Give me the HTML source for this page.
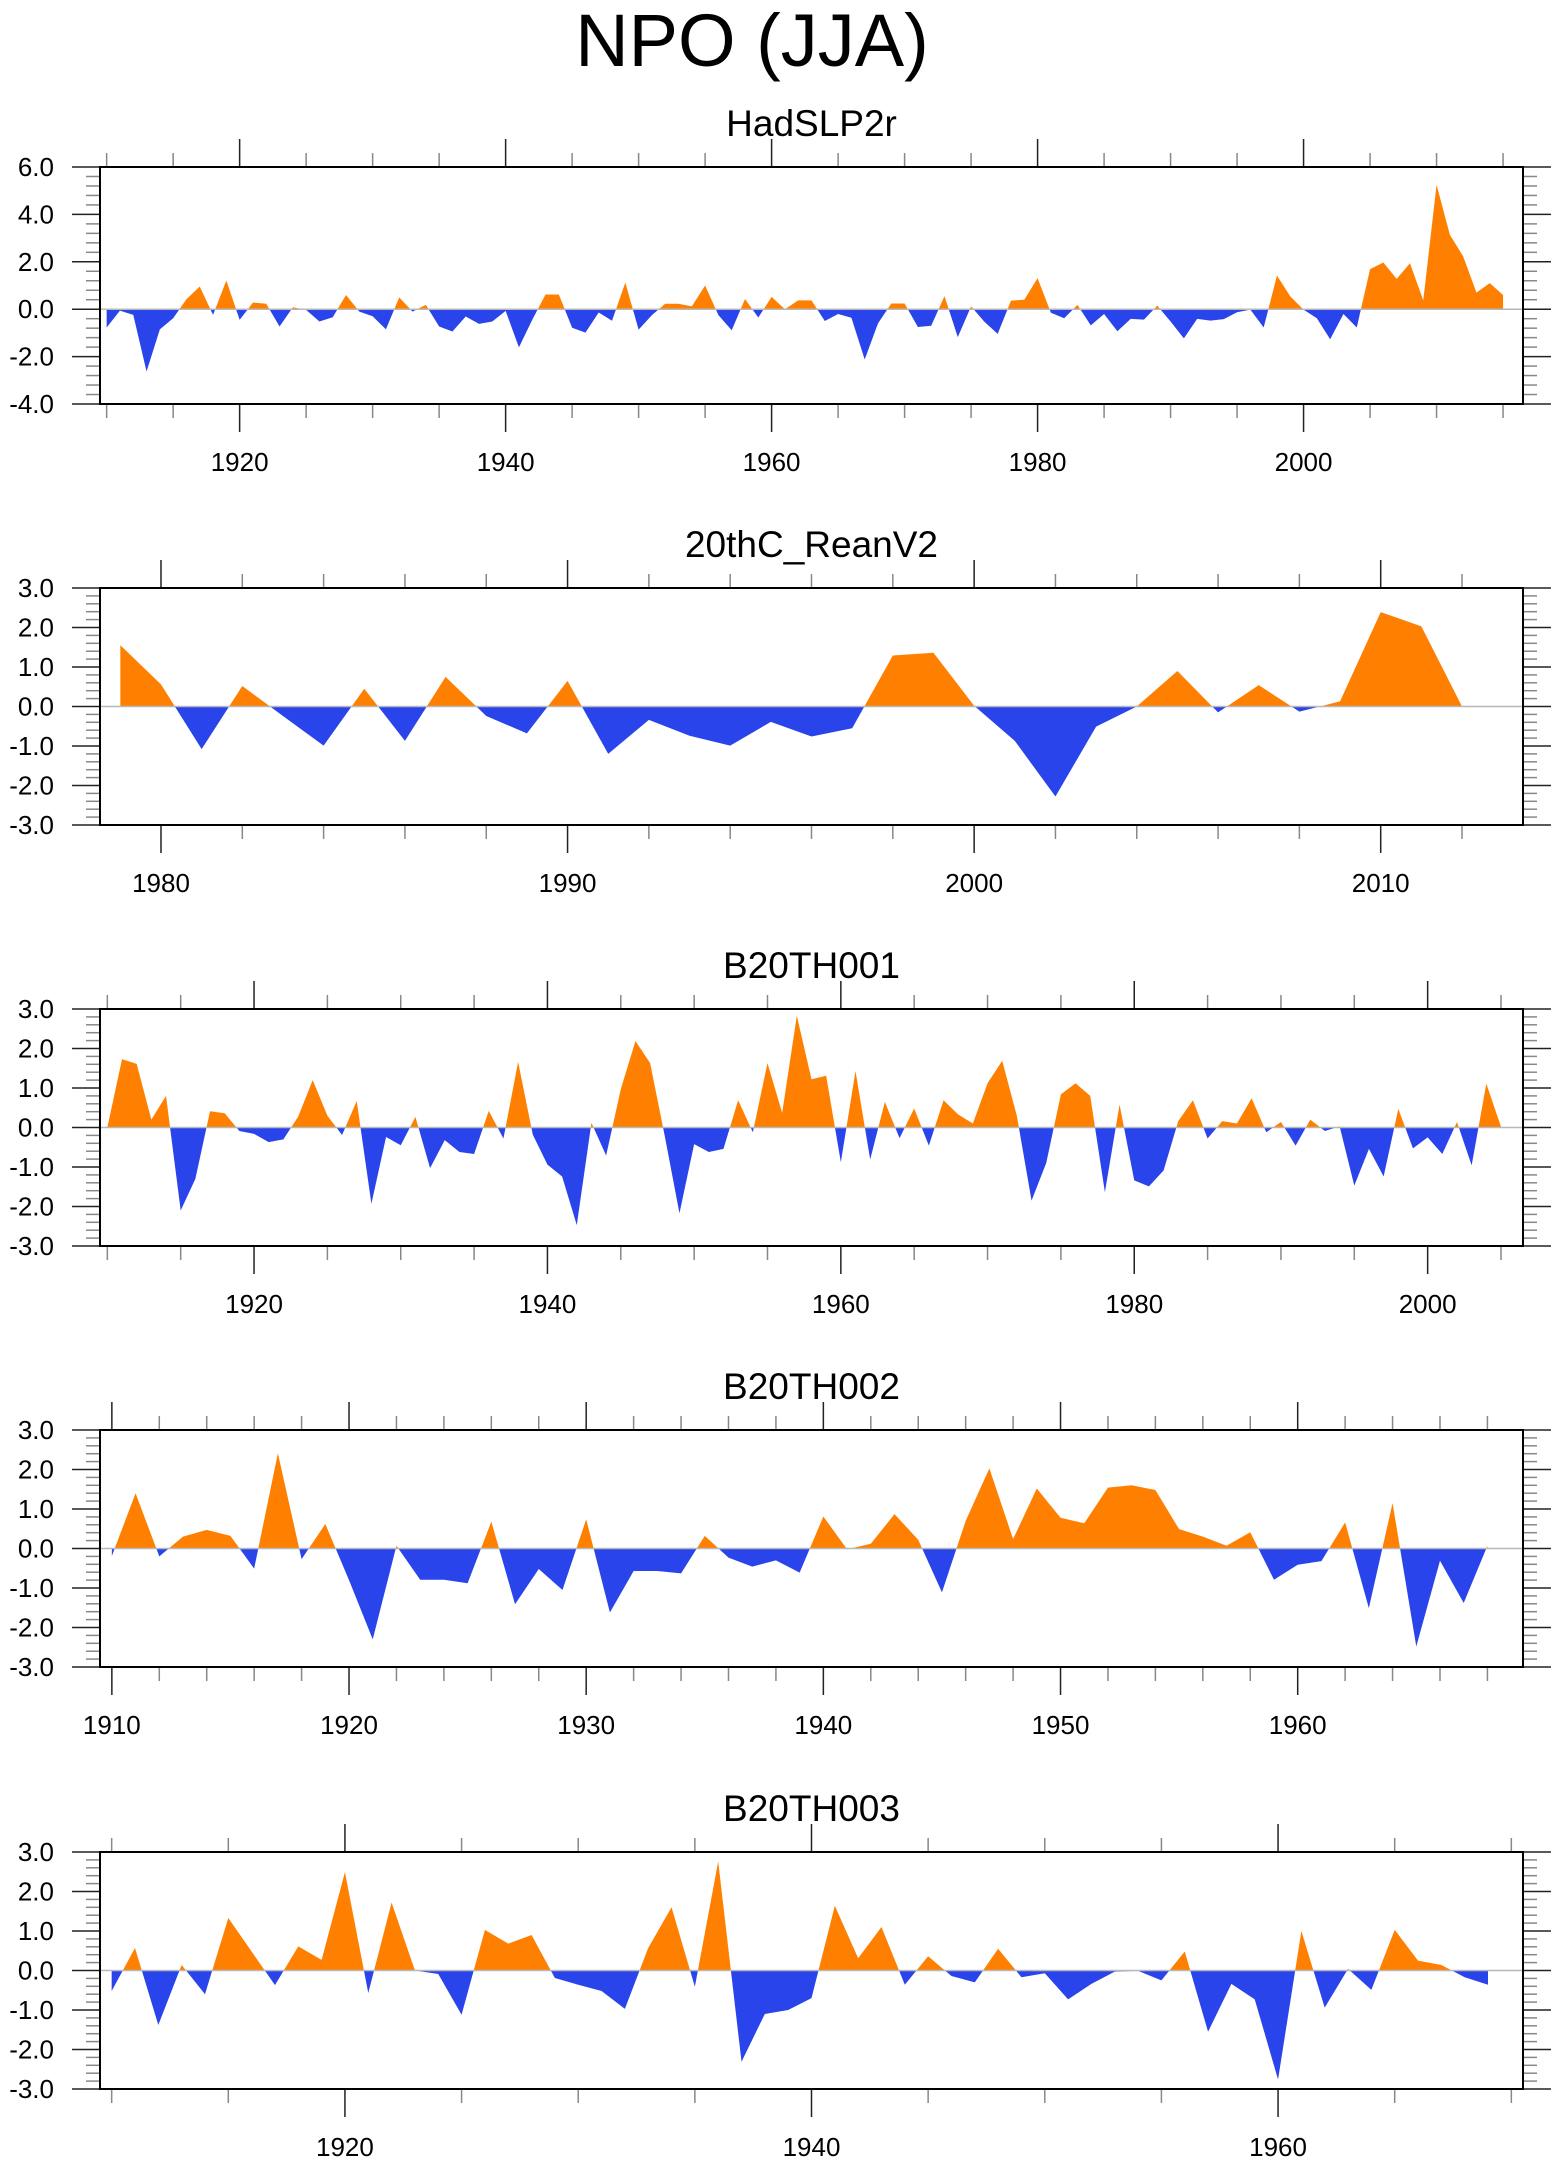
<!DOCTYPE html>
<html><head><meta charset="utf-8"><style>
html,body{margin:0;padding:0;background:#fff;}
svg{display:block;font-family:"Liberation Sans",Arial,sans-serif;}
</style></head><body>
<svg id="chart" width="1560" height="2165" viewBox="0 0 1560 2165" xmlns="http://www.w3.org/2000/svg">
<rect x="0" y="0" width="1560" height="2165" fill="#fff"/>
<text x="752" y="66" font-size="74" text-anchor="middle" fill="#000">NPO (JJA)</text>
</svg>
<script>
const titles = ["HadSLP2r","20thC_ReanV2","B20TH001","B20TH002","B20TH003"];
const startYears = [1910,1979,1910,1910,1910];
const yMins = [-4,-3,-3,-3,-3];
const yMaxs = [6,3,3,3,3];
const yMajorSteps = [2,1,1,1,1];
const xMajorSteps = [20,10,20,10,20];
const xMinorSteps = [5,2,5,2,5];

const hadslp2r = [-0.77,-0.06,-0.24,-2.63,-0.85,-0.38,0.42,0.96,-0.24,1.21,
-0.45,0.28,0.23,-0.73,0.08,-0.03,-0.52,-0.34,0.6,-0.1,
-0.3,-0.85,0.5,-0.1,0.18,-0.73,-0.94,-0.31,-0.62,-0.52,
-0.07,-1.61,-0.45,0.62,0.62,-0.78,-0.99,-0.14,-0.49,1.12,
-0.86,-0.25,0.23,0.23,0.12,1.0,-0.25,-0.89,0.43,-0.35,
0.52,0.0,0.37,0.37,-0.5,-0.2,-0.36,-2.12,-0.6,0.24,
0.24,-0.75,-0.7,0.55,-1.18,0.12,-0.53,-1.04,0.36,0.4,
1.31,-0.15,-0.38,0.18,-0.68,-0.2,-0.93,-0.41,-0.44,0.15,
-0.52,-1.23,-0.41,-0.48,-0.42,-0.13,-0.02,-0.77,1.42,0.54,
-0.02,-0.38,-1.27,-0.2,-0.77,1.69,1.97,1.28,1.94,0.37,
5.25,3.14,2.23,0.7,1.1,0.6];
const rean20c = [1.55,0.56,-1.08,0.52,-0.24,-0.99,0.45,-0.87,0.75,-0.24,
-0.68,0.65,-1.2,-0.34,-0.74,-0.99,-0.39,-0.76,-0.55,1.29,
1.36,0.02,-0.87,-2.28,-0.51,0.0,0.9,-0.15,0.54,-0.13,
0.13,2.39,2.03,0.0];
const b20th001 = [0.0,1.73,1.61,0.2,0.8,-2.1,-1.3,0.41,0.36,-0.09,
-0.16,-0.37,-0.3,0.27,1.2,0.3,-0.19,0.67,-1.93,-0.24,
-0.45,0.27,-1.03,-0.32,-0.62,-0.67,0.42,-0.28,1.66,-0.18,
-0.94,-1.24,-2.47,0.12,-0.71,0.97,2.19,1.63,-0.22,-2.17,
-0.42,-0.62,-0.54,0.69,-0.12,1.63,0.37,2.83,1.22,1.31,
-0.88,1.43,-0.81,0.65,-0.27,0.48,-0.46,0.69,0.33,0.1,
1.12,1.69,0.29,-1.85,-0.9,0.84,1.12,0.8,-1.64,0.58,
-1.34,-1.49,-1.09,0.16,0.69,-0.28,0.16,0.1,0.74,-0.12,
0.14,-0.46,0.2,-0.09,0.03,-1.47,-0.54,-1.24,0.47,-0.53,
-0.25,-0.67,0.14,-0.96,1.11,0.02];
const b20th002 = [-0.19,1.4,-0.2,0.3,0.47,0.32,-0.51,2.41,-0.27,0.62,
-0.8,-2.3,0.07,-0.79,-0.79,-0.88,0.68,-1.41,-0.52,-1.05,
0.74,-1.62,-0.57,-0.57,-0.63,0.32,-0.23,-0.46,-0.3,-0.61,
0.81,-0.02,0.12,0.87,0.22,-1.11,0.7,2.03,0.24,1.52,
0.78,0.64,1.54,1.6,1.48,0.49,0.3,0.07,0.41,-0.79,
-0.41,-0.32,0.66,-1.51,1.15,-2.48,-0.31,-1.38,0.07];
const b20th003 = [-0.52,0.57,-1.38,0.14,-0.6,1.33,0.48,-0.37,0.61,0.27,
2.49,-0.57,1.72,0.0,-0.09,-1.12,1.03,0.68,0.9,-0.19,
-0.36,-0.52,-0.97,0.57,1.6,-0.41,2.76,-2.31,-1.1,-1.0,
-0.7,1.64,0.31,1.1,-0.36,0.36,-0.14,-0.3,0.55,-0.17,
-0.07,-0.73,-0.34,-0.03,-0.01,-0.25,0.48,-1.55,-0.34,-0.73,
-2.76,1.0,-0.94,0.04,-0.49,1.03,0.25,0.14,-0.17,-0.36];
const seriesList = [hadslp2r, rean20c, b20th001, b20th002, b20th003];
const seriesNames = ["hadslp2r","20thc-reanv2","b20th001","b20th002","b20th003"];

const NS = "http://www.w3.org/2000/svg";
const svg = document.getElementById("chart");
const LEFT = 100, RIGHT = 1523, H = 237;
const tops = [167, 588, 1009, 1430, 1852];
function mk(tag, attrs, parent){
  const e = document.createElementNS(NS, tag);
  for (const k in attrs) e.setAttribute(k, attrs[k]);
  (parent||svg).appendChild(e);
  return e;
}
const ORANGE = "#ff8000", BLUE = "#2a44ec";
for (let p = 0; p < 5; p++) {
  const data = seriesList[p];
  const y0 = startYears[p];
  const xmin = y0 - 0.5, xmax = y0 + data.length - 1 + 1.5;
  const ymin = yMins[p], ymax = yMaxs[p];
  const top = tops[p], bot = top + H;
  const xs = v => LEFT + (v - xmin) / (xmax - xmin) * (RIGHT - LEFT);
  const ys = v => bot - (v - ymin) / (ymax - ymin) * H;
  const g = mk("g", {});
  
  
  const t = mk("text", {x:(LEFT+RIGHT)/2, y: top-31, "font-size":37, "text-anchor":"middle", fill:"#000"}, g);
  t.textContent = titles[p];
  
  
  const z = ys(0);
  const defs = mk("defs", {}, g);
  const cu = mk("clipPath", {id:"cu"+p}, defs);
  mk("rect", {x:LEFT, y:top, width:RIGHT-LEFT, height:z-top}, cu);
  const cd = mk("clipPath", {id:"cd"+p}, defs);
  mk("rect", {x:LEFT, y:z, width:RIGHT-LEFT, height:bot-z}, cd);
  let d = "M" + xs(y0) + "," + z;
  data.forEach((v,i) => { d += " L" + xs(y0+i).toFixed(2) + "," + ys(v).toFixed(2); });
  d += " L" + xs(y0+data.length-1) + "," + z + " Z";
  const up = mk("path", {d:d, fill:ORANGE, "clip-path":"url(#cu"+p+")"}, g);
  
  
  const dn = mk("path", {d:d, fill:BLUE, "clip-path":"url(#cd"+p+")"}, g);
  
  
  const zl = mk("line", {x1:LEFT, x2:RIGHT, y1:z, y2:z, stroke:"#b8b8b8", "stroke-width":1.5}, g);
  
  
  const ymaj = yMajorSteps[p], ymin5 = ymaj/5;
  for (let k = 0; k <= Math.round((ymax-ymin)/ymin5); k++) {
    const v = ymin + k*ymin5, yy = ys(v);
    const major = (k % 5 === 0);
    const len = major ? 28 : 14;
    const col = major ? "#222" : "#888";
    mk("line", {x1:LEFT-len, x2:LEFT, y1:yy, y2:yy, stroke:col, "stroke-width":1.5}, g);
    mk("line", {x1:RIGHT, x2:RIGHT+len, y1:yy, y2:yy, stroke:col, "stroke-width":1.5}, g);
    if (major) {
      const lab = mk("text", {x:54, y:yy+9, "font-size":26, "text-anchor":"end", fill:"#000"}, g);
      lab.textContent = v.toFixed(1);
      
      
    }
  }
  const xmajS = xMajorSteps[p], xminS = xMinorSteps[p];
  for (let yr = Math.ceil(xmin/xminS)*xminS; yr <= xmax; yr += xminS) {
    const xx = xs(yr);
    const major = (yr % xmajS === 0);
    const len = major ? 28 : 14;
    const col = major ? "#222" : "#888";
    mk("line", {x1:xx, x2:xx, y1:top-len, y2:top, stroke:col, "stroke-width":1.5}, g);
    mk("line", {x1:xx, x2:xx, y1:bot, y2:bot+len, stroke:col, "stroke-width":1.5}, g);
    if (major) {
      const lab = mk("text", {x:xx, y:bot+67, "font-size":26, "text-anchor":"middle", fill:"#000"}, g);
      lab.textContent = String(yr);
      
      
    }
  }
  const box = mk("rect", {x:LEFT, y:top, width:RIGHT-LEFT, height:H, fill:"none", stroke:"#000", "stroke-width":2}, g);
  
  
}
</script>
</body></html>
